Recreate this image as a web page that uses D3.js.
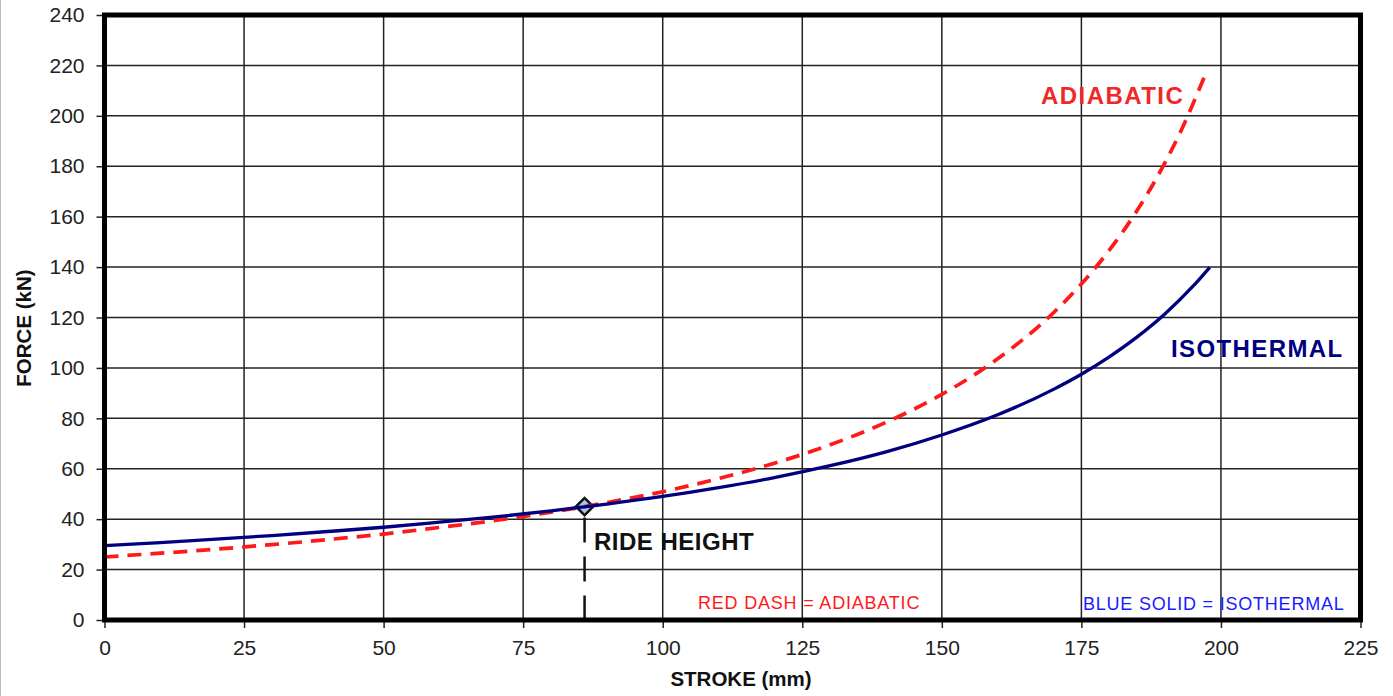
<!DOCTYPE html>
<html>
<head>
<meta charset="utf-8">
<script src="https://cdn.jsdelivr.net/npm/d3@7"></script>
<style>
  html, body { margin: 0; padding: 0; background: #fff; }
  svg { display: block; font-family: "Liberation Sans", Arial, sans-serif; }
</style>
</head>
<body>
<svg id="chart" width="1393" height="696"></svg>
<script>
// ---- data ----
const xTicks = [0, 25, 50, 75, 100, 125, 150, 175, 200, 225];
const yTicks = [0, 20, 40, 60, 80, 100, 120, 140, 160, 180, 200, 220, 240];

const isoStroke = [0, 10, 20, 30, 40, 50, 60, 70, 80, 86, 90, 100, 110, 120, 130, 140, 150, 160, 170, 175, 180, 185, 190, 195, 198];
const isoForce  = [29.5, 30.7, 32.1, 33.5, 35.1, 36.8, 38.8, 40.9, 43.3, 44.9, 46.0, 49.0, 52.5, 56.5, 61.2, 66.7, 73.4, 81.4, 91.5, 97.5, 104.4, 112.3, 121.5, 132.4, 139.9];

const adiStroke = [0, 10, 20, 30, 40, 50, 60, 70, 80, 86, 90, 100, 110, 120, 130, 140, 150, 160, 170, 175, 180, 185, 190, 193, 197];
const adiForce  = [25.0, 26.5, 28.1, 29.9, 31.9, 34.1, 36.7, 39.5, 42.8, 45.0, 46.6, 50.9, 56.1, 62.2, 69.5, 78.4, 89.5, 103.6, 121.9, 133.3, 146.7, 162.5, 181.5, 194.8, 215.3];

const rideHeight = { stroke: 86, force: 45 };

// ---- layout ----
const svg = d3.select("#chart");
const pL = 104.5, pR = 1360.5, pT = 15, pB = 620;
const x = d3.scaleLinear().domain([0, 225]).range([pL, pR]);
const y = d3.scaleLinear().domain([0, 240]).range([pB, pT]);

// frame edge on the far left of image
svg.append("line").attr("x1", 0.5).attr("x2", 0.5).attr("y1", 0).attr("y2", 696)
  .attr("stroke", "#bbb").attr("stroke-width", 1);

// grid
const grid = svg.append("g");
grid.selectAll("line.v").data(xTicks.filter(d => d > 0 && d < 225)).enter().append("line")
  .attr("x1", d => x(d)).attr("x2", d => x(d)).attr("y1", pT).attr("y2", pB)
  .attr("stroke", "#222").attr("stroke-width", 1.5);
grid.selectAll("line.h").data(yTicks.filter(d => d > 0 && d < 240)).enter().append("line")
  .attr("x1", pL).attr("x2", pR).attr("y1", d => y(d)).attr("y2", d => y(d))
  .attr("stroke", "#222").attr("stroke-width", 1.5);

// axes
const xAxis = svg.append("g").attr("transform", `translate(0,${pB})`)
  .call(d3.axisBottom(x).tickValues(xTicks).tickSize(8).tickPadding(12).tickFormat(d3.format("d")));
const yAxis = svg.append("g").attr("transform", `translate(${pL},0)`)
  .call(d3.axisLeft(y).tickValues(yTicks).tickSize(8).tickPadding(12).tickFormat(d3.format("d")));
[xAxis, yAxis].forEach(a => {
  a.select(".domain").remove();
  a.selectAll(".tick line").attr("stroke", "#222").attr("stroke-width", 1.5);
  a.selectAll(".tick text").attr("font-size", 21).attr("fill", "#222")
    .attr("font-family", "'Liberation Sans', Arial, sans-serif");
});

// ride height marker (behind curves)
const rx = x(rideHeight.stroke), ry = y(rideHeight.force);
svg.append("line").attr("x1", rx).attr("x2", rx).attr("y1", ry + 11).attr("y2", pB)
  .attr("stroke", "#111").attr("stroke-width", 2.5).attr("stroke-dasharray", "25,14");
svg.append("path")
  .attr("d", d3.symbol().type(d3.symbolSquare).size(150)())
  .attr("transform", `translate(${rx},${ry}) rotate(45)`)
  .attr("fill", "#a9c8e6").attr("stroke", "#111").attr("stroke-width", 2.5);

// curves
const line = d3.line().x(d => x(d[0])).y(d => y(d[1])).curve(d3.curveMonotoneX);
svg.append("path").datum(d3.zip(adiStroke, adiForce)).attr("d", line)
  .attr("fill", "none").attr("stroke", "#ff1a1a").attr("stroke-width", 3.7)
  .attr("stroke-dasharray", "14,9");
svg.append("path").datum(d3.zip(isoStroke, isoForce)).attr("d", line)
  .attr("fill", "none").attr("stroke", "#000080").attr("stroke-width", 3.3);

// plot frame
svg.append("rect").attr("x", pL).attr("y", pT).attr("width", pR - pL).attr("height", pB - pT)
  .attr("fill", "none").attr("stroke", "#000").attr("stroke-width", 5);

// labels
svg.append("text").attr("x", 594).attr("y", 550).text("RIDE HEIGHT")
  .attr("font-size", 24).attr("font-weight", "bold").attr("fill", "#111").attr("letter-spacing", 0.5);
svg.append("text").attr("x", 1041).attr("y", 104).text("ADIABATIC")
  .attr("font-size", 24).attr("font-weight", "bold").attr("fill", "#f02828").attr("letter-spacing", 1.45);
svg.append("text").attr("x", 1171).attr("y", 357).text("ISOTHERMAL")
  .attr("font-size", 24).attr("font-weight", "bold").attr("fill", "#000080").attr("letter-spacing", 1.4);
svg.append("text").attr("x", 698).attr("y", 609).text("RED DASH = ADIABATIC")
  .attr("font-size", 18).attr("fill", "#ff1a1a").attr("letter-spacing", 0.8);
svg.append("text").attr("x", 1083).attr("y", 610).text("BLUE SOLID = ISOTHERMAL")
  .attr("font-size", 18).attr("fill", "#1a1aff").attr("letter-spacing", 0.78);

// axis titles
svg.append("text").attr("x", 741).attr("y", 686).attr("text-anchor", "middle").text("STROKE (mm)")
  .attr("font-size", 20.5).attr("font-weight", "bold").attr("fill", "#111");
svg.append("text").attr("transform", "translate(31,328) rotate(-90)").attr("text-anchor", "middle").text("FORCE (kN)")
  .attr("font-size", 20.5).attr("font-weight", "bold").attr("fill", "#111");
</script>
</body>
</html>
